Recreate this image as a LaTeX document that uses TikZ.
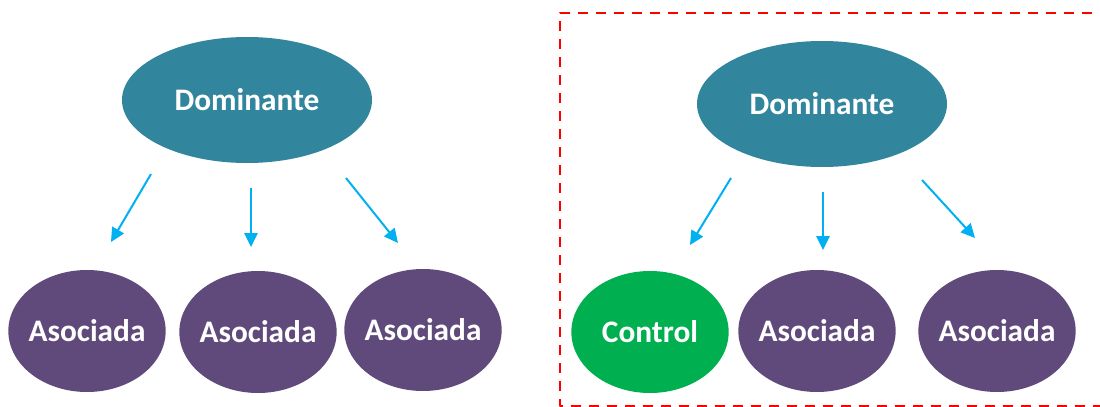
\documentclass[tikz,border=0pt]{standalone}
\usepackage{fontspec}
\setmainfont{Carlito}
\usepackage{tikz}
\usetikzlibrary{shapes.geometric}
\usetikzlibrary{arrows.meta}
\definecolor{domcol}{HTML}{31859C}
\definecolor{asocol}{HTML}{604A7B}
\definecolor{ctrlcol}{HTML}{00B050}
\definecolor{arrcol}{HTML}{00B0F0}
\definecolor{boxcol}{HTML}{FF0000}

\begin{document}
\begin{tikzpicture}[line cap=butt,line join=round,x=0.75pt,y=-0.75pt,
  dom/.style={ellipse,fill=domcol,text=white,inner xsep=-40pt,inner ysep=0pt,minimum width=187.5pt,minimum height=94.5pt,font=\fontsize{23.5}{28}\selectfont\bfseries},
  aso/.style={ellipse,fill=asocol,text=white,inner xsep=-40pt,inner ysep=0pt,minimum width=118pt,minimum height=91.5pt,font=\fontsize{23.5}{28}\selectfont\bfseries},
  ctrl/.style={aso,fill=ctrlcol},
  arr/.style={line width=1.5pt,color=arrcol,-{Triangle[length=10.5pt,width=10pt]}}]
\clip (0,0) rectangle (1100,407);
%left group
\node[dom] (domL) at (247,100) {Dominante};
\node[aso] (asoLa) at (87,331) {Asociada};
\node[aso] (asoLb) at (258,332) {Asociada};
\node[aso] (asoLc) at (423,330) {Asociada};
\coordinate (aLa) at (151,174); \coordinate (bLa) at (111,242);
\coordinate (aLb) at (251,188); \coordinate (bLb) at (251,247);
\coordinate (aLc) at (346,178); \coordinate (bLc) at (398,243);
\draw [arr] (aLa)-- (bLa);
\draw [arr] (aLb)-- (bLb);
\draw [arr] (aLc)-- (bLc);
%right group
\node[dom] (domR) at (822,104) {Dominante};
\node[ctrl] (ctrlR) at (650,332) {Control};
\node[aso] (asoRb) at (817,331) {Asociada};
\node[aso] (asoRc) at (997,331) {Asociada};
\coordinate (aRa) at (731,178); \coordinate (bRa) at (690,245);
\coordinate (aRb) at (823,192); \coordinate (bRb) at (823,250);
\coordinate (aRc) at (922,180); \coordinate (bRc) at (975,238);
\draw [arr] (aRa)-- (bRa);
\draw [arr] (aRb)-- (bRb);
\draw [arr] (aRc)-- (bRc);
%dashed frame
\coordinate (fTR) at (1110,13); \coordinate (fTL) at (560,13);
\coordinate (fBL) at (560,406); \coordinate (fBR) at (1110,406);
\draw [line width=1.6pt,color=boxcol,dash pattern=on 7.5pt off 6pt] (fTR)-- (fTL)-- (fBL)-- (fBR);
\end{tikzpicture}
\end{document}
